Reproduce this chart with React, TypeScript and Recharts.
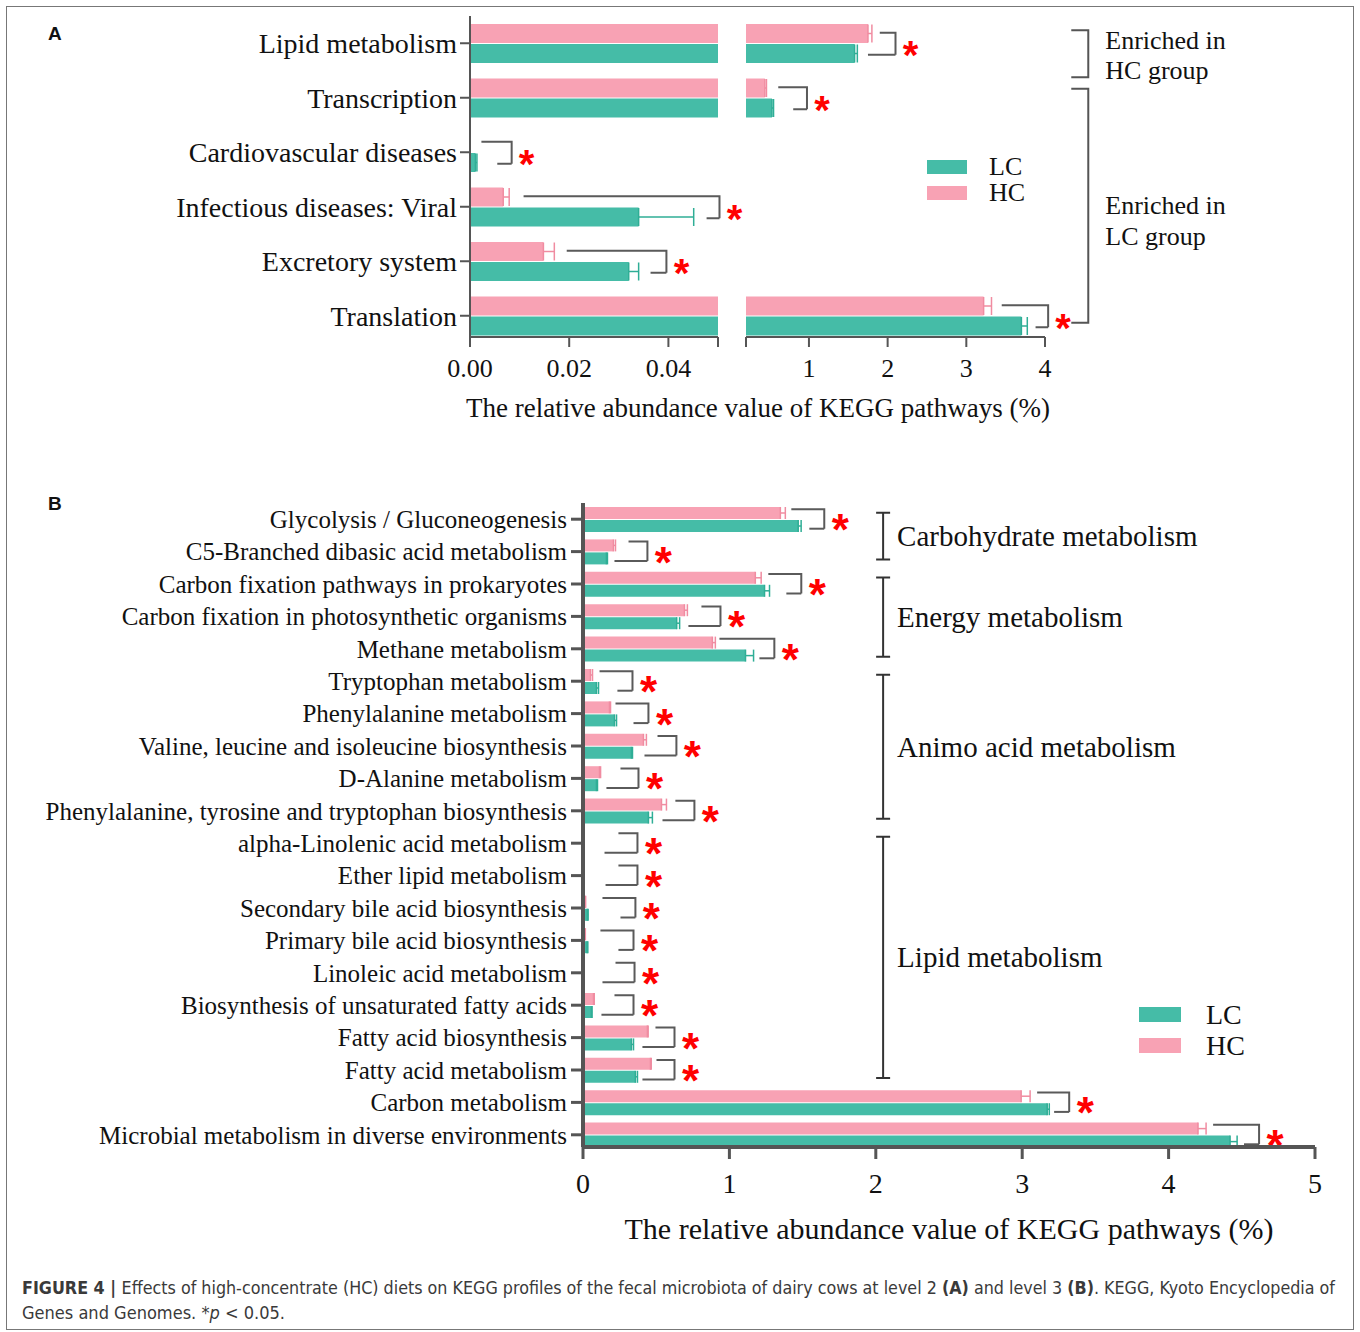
import React from 'react';
import { BarChart, Bar, XAxis, YAxis, ErrorBar, ReferenceLine, Legend } from 'recharts';

const SERIF = '"Liberation Serif", "Times New Roman", Times, serif';
const SANS = '"Liberation Sans", Arial, Helvetica, sans-serif';
const NARROW = '"Liberation Sans Narrow", "DejaVu Sans Condensed", "Liberation Sans", sans-serif';

const LC_COLOR = '#45BCA7';
const HC_COLOR = '#F8A2B4';
const LC_ERR_COLOR = '#2FAE96';
const HC_ERR_COLOR = '#F08CA1';
const BRACKET_COLOR = '#5a5a5a';
const AXIS_COLOR = '#555555';
const STAR_COLOR = '#FF0000';
const TEXT_COLOR = '#111111';

const seriesNames = ['LC', 'HC'];
const seriesColors = [LC_COLOR, HC_COLOR];
const AXIS_TITLE = 'The relative abundance value of KEGG pathways (%)';

// ---------------- Panel A (KEGG level 2) ----------------
const aCategories = [
  'Lipid metabolism',
  'Transcription',
  'Cardiovascular diseases',
  'Infectious diseases: Viral',
  'Excretory system',
  'Translation',
];
const aLC = [1.58, 0.53, 0.0011, 0.034, 0.032, 3.7];
const aLCErr = [0.035, 0.02, 0.0003, 0.0111, 0.002, 0.075];
const aHC = [1.75, 0.44, 0, 0.0067, 0.0148, 3.22];
const aHCErr = [0.05, 0.02, 0, 0.0012, 0.0022, 0.1];
const aBracketTop = [1.9, 0.61, 0.0023, 0.0108, 0.0195, 3.45];
const aBracketBottom = [1.75, 0.8, 0.0055, 0.0477, 0.0364, 3.88];
const aBracketRight = [2.1, 0.975, 0.0084, 0.0503, 0.0396, 4.04];
const aBreak = [0.05, 0.2];
const aLeftTicks = [0, 0.02, 0.04, 0.05];
const aRightTicks = [0.2, 1, 2, 3, 4];
const aGroupX = 4.55;
const aGroups = [
  { lines: ['Enriched in', 'HC group'], from: 0, to: 0, extTop: -13, extBottom: 34, textDy: [-13, 17] },
  { lines: ['Enriched in', 'LC group'], from: 1, to: 5, extTop: -9, extBottom: 7, textDy: [0, 31] },
];

// ---------------- Panel B (KEGG level 3) ----------------
const bCategories = [
  'Glycolysis / Gluconeogenesis',
  'C5-Branched dibasic acid metabolism',
  'Carbon fixation pathways in prokaryotes',
  'Carbon fixation in photosynthetic organisms',
  'Methane metabolism',
  'Tryptophan metabolism',
  'Phenylalanine metabolism',
  'Valine, leucine and isoleucine biosynthesis',
  'D-Alanine metabolism',
  'Phenylalanine, tyrosine and tryptophan biosynthesis',
  'alpha-Linolenic acid metabolism',
  'Ether lipid metabolism',
  'Secondary bile acid biosynthesis',
  'Primary bile acid biosynthesis',
  'Linoleic acid metabolism',
  'Biosynthesis of unsaturated fatty acids',
  'Fatty acid biosynthesis',
  'Fatty acid metabolism',
  'Carbon metabolism',
  'Microbial metabolism in diverse environments',
];
const bLC = [1.47, 0.16, 1.24, 0.64, 1.11, 0.092, 0.215, 0.331, 0.092, 0.447, 0.005, 0.004, 0.03, 0.028, 0.002, 0.057, 0.331, 0.358, 3.171, 4.42];
const bLCErr = [0.02, 0.007, 0.034, 0.02, 0.055, 0.014, 0.014, 0.007, 0.007, 0.027, 0.001, 0.001, 0.005, 0.005, 0.001, 0.005, 0.014, 0.014, 0.014, 0.048];
const bHC = [1.348, 0.208, 1.177, 0.693, 0.884, 0.051, 0.181, 0.413, 0.113, 0.536, 0.006, 0.005, 0.015, 0.013, 0.006, 0.072, 0.44, 0.461, 2.993, 4.201];
const bHCErr = [0.034, 0.014, 0.04, 0.02, 0.02, 0.014, 0.007, 0.02, 0.007, 0.034, 0.001, 0.001, 0.003, 0.003, 0.001, 0.005, 0.005, 0.005, 0.061, 0.055];
const bBracketTop = [1.423, 0.311, 1.266, 0.809, 0.932, 0.113, 0.222, 0.509, 0.256, 0.631, 0.242, 0.242, 0.133, 0.119, 0.222, 0.215, 0.495, 0.502, 3.102, 4.304];
const bBracketBottom = [1.546, 0.215, 1.389, 0.72, 1.205, 0.235, 0.345, 0.42, 0.16, 0.543, 0.147, 0.154, 0.256, 0.242, 0.133, 0.126, 0.406, 0.406, 3.218, 4.515];
const bBracketRight = [1.648, 0.44, 1.491, 0.939, 1.307, 0.338, 0.447, 0.638, 0.379, 0.761, 0.372, 0.372, 0.358, 0.345, 0.352, 0.345, 0.625, 0.625, 3.321, 4.618];
const bTicks = [0, 1, 2, 3, 4, 5];
const bGroupX = 2.05;
const bGroups = [
  { label: 'Carbohydrate metabolism', from: 0, to: 1 },
  { label: 'Energy metabolism', from: 2, to: 4 },
  { label: 'Animo acid metabolism', from: 5, to: 9 },
  { label: 'Lipid metabolism', from: 10, to: 17 },
];

// ---------------- data tables ----------------
const aLeftData = aCategories.map((name, i) => ({
  name,
  hc: aHC[i],
  lc: aLC[i],
  hcErr: aHCErr[i] > 0 && aHC[i] + aHCErr[i] <= aBreak[0] ? [0, aHCErr[i]] : null,
  lcErr: aLCErr[i] > 0 && aLC[i] + aLCErr[i] <= aBreak[0] ? [0, aLCErr[i]] : null,
}));
const aRightData = aCategories.map((name, i) => ({
  name,
  hc: aHC[i] >= aBreak[1] ? aHC[i] : null,
  lc: aLC[i] >= aBreak[1] ? aLC[i] : null,
  hcErr: aHC[i] >= aBreak[1] ? [0, aHCErr[i]] : null,
  lcErr: aLC[i] >= aBreak[1] ? [0, aLCErr[i]] : null,
}));
const bData = bCategories.map((name, i) => ({
  name,
  hc: bHC[i],
  lc: bLC[i],
  hcErr: [0, bHCErr[i]],
  lcErr: [0, bLCErr[i]],
}));

// ---------------- shapes ----------------
const ok = (...v: any[]) => v.every((n) => typeof n === 'number' && Number.isFinite(n));

function bracketTopShape(topOff: number, botOff: number, starDx: number, starDy: number, starSize: number) {
  return (p: any) => {
    const { x1, y1, x2, y2 } = p;
    if (!ok(x1, y1, x2, y2)) return <g />;
    return (
      <g>
        <path d={`M${x1},${y1 + topOff}H${x2}V${y2 + botOff}`} fill="none" stroke={BRACKET_COLOR} strokeWidth={2} />
        <text x={x2 + starDx} y={y2 + starDy} textAnchor="middle" fill={STAR_COLOR} fontFamily={SANS} fontWeight="bold" fontSize={starSize}>
          *
        </text>
      </g>
    );
  };
}
function bracketBottomShape(botOff: number) {
  return (p: any) => {
    const { x1, y1, x2 } = p;
    if (!ok(x1, y1, x2)) return <g />;
    return <path d={`M${x1},${y1 + botOff}H${x2}`} fill="none" stroke={BRACKET_COLOR} strokeWidth={2} />;
  };
}

function enrichedShape(g: any) {
  return (p: any) => {
    const { x1, y1, y2 } = p;
    if (!ok(x1, y1, y2)) return <g />;
    const top = y1 + g.extTop;
    const bot = y2 + g.extBottom;
    const mid = (top + bot) / 2;
    return (
      <g>
        <path d={`M${x1 - 17},${top}H${x1}V${bot}H${x1 - 17}`} fill="none" stroke={AXIS_COLOR} strokeWidth={2} />
        {g.lines.map((t: string, k: number) => (
          <text key={k} x={x1 + 17} y={mid + g.textDy[k]} dominantBaseline="central" fontFamily={SERIF} fontSize={26} fill={TEXT_COLOR}>
            {t}
          </text>
        ))}
      </g>
    );
  };
}

function groupShape(label: string) {
  return (p: any) => {
    const { x1, y1, y2 } = p;
    if (!ok(x1, y1, y2)) return <g />;
    const top = y1 - 6.5;
    const bot = y2 + 8;
    return (
      <g>
        <path d={`M${x1},${top}V${bot}M${x1 - 7},${top}H${x1 + 7}M${x1 - 7},${bot}H${x1 + 7}`} fill="none" stroke="#333" strokeWidth={2} />
        <text x={x1 + 14} y={(top + bot) / 2} dominantBaseline="central" fontFamily={SERIF} fontSize={29} fill={TEXT_COLOR}>
          {label}
        </text>
      </g>
    );
  };
}

function LegendBox({ swatchW, swatchH, fontSize, rowGap, labelGap }: any) {
  return (
    <div style={{ display: 'flex', flexDirection: 'column', gap: rowGap }}>
      {seriesNames.map((n, k) => (
        <div key={n} style={{ display: 'flex', alignItems: 'center', height: swatchH }}>
          <div style={{ width: swatchW, height: swatchH, background: seriesColors[k] }} />
          <span style={{ marginLeft: labelGap, fontFamily: SERIF, fontSize, lineHeight: 1, color: TEXT_COLOR }}>{n}</span>
        </div>
      ))}
    </div>
  );
}

function renderBrackets(
  cats: string[],
  idx: number[],
  top: number[],
  bottom: number[],
  right: number[],
  o: { topOff: number; botOff: number; starDx: number; starDy: number; starSize: number },
) {
  const out: any[] = [];
  idx.forEach((i) => {
    out.push(
      <ReferenceLine
        key={`bt${i}`}
        ifOverflow="visible"
        segment={[{ x: top[i], y: cats[i] }, { x: right[i], y: cats[i] }]}
        shape={bracketTopShape(o.topOff, o.botOff, o.starDx, o.starDy, o.starSize)}
      />,
    );
    out.push(
      <ReferenceLine
        key={`bb${i}`}
        ifOverflow="visible"
        segment={[{ x: bottom[i], y: cats[i] }, { x: right[i], y: cats[i] }]}
        shape={bracketBottomShape(o.botOff)}
      />,
    );
  });
  return out;
}

const aBracketStyle = { topOff: -10.5, botOff: 11.5, starDx: 15, starDy: 26, starSize: 40 };
const bBracketStyle = { topOff: -10, botOff: 9.5, starDx: 16, starDy: 26, starSize: 44 };

const aLeftIdx = aCategories.map((_, i) => i).filter((i) => aBracketRight[i] <= aBreak[1]);
const aRightIdx = aCategories.map((_, i) => i).filter((i) => aBracketRight[i] > aBreak[1]);
const bIdx = bCategories.map((_, i) => i);

const aTick = { fill: TEXT_COLOR, fontSize: 26, fontFamily: SERIF };

export default function App() {
  return (
    <div style={{ position: 'absolute', left: 0, top: 0, width: 1360, height: 1332, background: '#fff', overflow: 'hidden' }}>
      {/* Panel A, left segment of the broken axis */}
      <div style={{ position: 'absolute', left: 0, top: 0 }}>
        <BarChart width={780} height={400} data={aLeftData} layout="vertical" margin={{ top: 16, right: 62, bottom: 0, left: 0 }} barSize={19} barGap={1}>
          <Bar dataKey="hc" name="HC" fill={HC_COLOR} isAnimationActive={false}>
            <ErrorBar dataKey="hcErr" direction="x" width={9} stroke={HC_ERR_COLOR} strokeWidth={1.5} isAnimationActive={false} />
          </Bar>
          <Bar dataKey="lc" name="LC" fill={LC_COLOR} isAnimationActive={false}>
            <ErrorBar dataKey="lcErr" direction="x" width={9} stroke={LC_ERR_COLOR} strokeWidth={1.5} isAnimationActive={false} />
          </Bar>
          <XAxis
            type="number"
            domain={[0, aBreak[0]]}
            allowDataOverflow
            ticks={aLeftTicks}
            interval={0}
            tickFormatter={(v: number) => (v === aBreak[0] ? '' : v.toFixed(2))}
            height={63}
            axisLine={{ stroke: AXIS_COLOR, strokeWidth: 2 }}
            tickLine={{ stroke: AXIS_COLOR, strokeWidth: 2 }}
            tickSize={10}
            tickMargin={12}
            tick={aTick}
          />
          <YAxis
            type="category"
            dataKey="name"
            width={470}
            padding={{ top: 0, bottom: -6 }}
            axisLine={{ stroke: AXIS_COLOR, strokeWidth: 2 }}
            tickLine={{ stroke: AXIS_COLOR, strokeWidth: 2 }}
            tickSize={10}
            tickMargin={3}
            interval={0}
            tick={{ fill: TEXT_COLOR, fontSize: 28, fontFamily: SERIF }}
          />
          {renderBrackets(aCategories, aLeftIdx, aBracketTop, aBracketBottom, aBracketRight, aBracketStyle)}
        </BarChart>
      </div>

      {/* Panel A, right segment of the broken axis */}
      <div style={{ position: 'absolute', left: 700, top: 0 }}>
        <BarChart width={660} height={400} data={aRightData} layout="vertical" margin={{ top: 16, right: 315, bottom: 0, left: 46 }} barSize={19} barGap={1}>
          <Bar dataKey="hc" name="HC" fill={HC_COLOR} isAnimationActive={false}>
            <ErrorBar dataKey="hcErr" direction="x" width={9} stroke={HC_ERR_COLOR} strokeWidth={1.5} isAnimationActive={false} />
          </Bar>
          <Bar dataKey="lc" name="LC" fill={LC_COLOR} isAnimationActive={false}>
            <ErrorBar dataKey="lcErr" direction="x" width={9} stroke={LC_ERR_COLOR} strokeWidth={1.5} isAnimationActive={false} />
          </Bar>
          <XAxis
            type="number"
            domain={[aBreak[1], 4]}
            allowDataOverflow
            ticks={aRightTicks}
            interval={0}
            tickFormatter={(v: number) => (v === aBreak[1] ? '' : String(v))}
            height={63}
            axisLine={{ stroke: AXIS_COLOR, strokeWidth: 2 }}
            tickLine={{ stroke: AXIS_COLOR, strokeWidth: 2 }}
            tickSize={10}
            tickMargin={12}
            tick={aTick}
          />
          <YAxis type="category" dataKey="name" hide padding={{ top: 0, bottom: -6 }} />
          {renderBrackets(aCategories, aRightIdx, aBracketTop, aBracketBottom, aBracketRight, aBracketStyle)}
          {aGroups.map((g, k) => (
            <ReferenceLine
              key={`ag${k}`}
              ifOverflow="visible"
              segment={[{ x: aGroupX, y: aCategories[g.from] }, { x: aGroupX, y: aCategories[g.to] }]}
              shape={enrichedShape(g)}
            />
          ))}
          <Legend
            layout="vertical"
            align="center"
            verticalAlign="middle"
            wrapperStyle={{ left: 227, top: 160, width: 'auto', height: 'auto' }}
            content={() => <LegendBox swatchW={40} swatchH={14} fontSize={26} rowGap={12} labelGap={22} />}
          />
        </BarChart>
      </div>

      {/* Panel B */}
      <div style={{ position: 'absolute', left: 0, top: 440 }}>
        <BarChart width={1360} height={830} data={bData} layout="vertical" margin={{ top: 63, right: 45, bottom: 63, left: 0 }} barSize={12} barGap={1}>
          <Bar dataKey="hc" name="HC" fill={HC_COLOR} isAnimationActive={false}>
            <ErrorBar dataKey="hcErr" direction="x" width={6} stroke={HC_ERR_COLOR} strokeWidth={1.5} isAnimationActive={false} />
          </Bar>
          <Bar dataKey="lc" name="LC" fill={LC_COLOR} isAnimationActive={false}>
            <ErrorBar dataKey="lcErr" direction="x" width={6} stroke={LC_ERR_COLOR} strokeWidth={1.5} isAnimationActive={false} />
          </Bar>
          <XAxis
            type="number"
            domain={[0, 5]}
            ticks={bTicks}
            interval={0}
            height={60}
            axisLine={{ stroke: AXIS_COLOR, strokeWidth: 4 }}
            tickLine={{ stroke: AXIS_COLOR, strokeWidth: 3 }}
            tickSize={12}
            tickMargin={14}
            tick={{ fill: TEXT_COLOR, fontSize: 28, fontFamily: SERIF }}
            label={{ value: AXIS_TITLE, position: 'bottom', offset: 11, style: { fill: TEXT_COLOR, fontSize: 30, fontFamily: SERIF } }}
          />
          <YAxis
            type="category"
            dataKey="name"
            width={583}
            padding={{ top: 0, bottom: -4 }}
            axisLine={{ stroke: AXIS_COLOR, strokeWidth: 4 }}
            tickLine={{ stroke: AXIS_COLOR, strokeWidth: 3 }}
            tickSize={12}
            tickMargin={4}
            interval={0}
            tick={{ fill: TEXT_COLOR, fontSize: 25, fontFamily: SERIF }}
          />
          {renderBrackets(bCategories, bIdx, bBracketTop, bBracketBottom, bBracketRight, bBracketStyle)}
          {bGroups.map((g, k) => (
            <ReferenceLine
              key={`bg${k}`}
              ifOverflow="visible"
              segment={[{ x: bGroupX, y: bCategories[g.from] }, { x: bGroupX, y: bCategories[g.to] }]}
              shape={groupShape(g.label)}
            />
          ))}
          <Legend
            layout="vertical"
            align="center"
            verticalAlign="middle"
            wrapperStyle={{ left: 1139, top: 567, width: 'auto', height: 'auto' }}
            content={() => <LegendBox swatchW={42} swatchH={15} fontSize={28} rowGap={16} labelGap={25} />}
          />
        </BarChart>
      </div>

      {/* frame, panel letters, shared axis title of A, caption */}
      <svg width={1360} height={1332} style={{ position: 'absolute', left: 0, top: 0, pointerEvents: 'none' }}>
        <rect x={6.5} y={6.5} width={1347} height={1323} fill="none" stroke="#777" strokeWidth={1} />
        <text x={48} y={40} fontFamily={SANS} fontWeight="bold" fontSize={19} fill={TEXT_COLOR}>A</text>
        <text x={48} y={510} fontFamily={SANS} fontWeight="bold" fontSize={19} fill={TEXT_COLOR}>B</text>
        <text x={758} y={408} textAnchor="middle" dominantBaseline="central" fontFamily={SERIF} fontSize={27} fill={TEXT_COLOR}>
          {AXIS_TITLE}
        </text>
        <text x={22} y={1294} fontFamily={NARROW} fontSize={17} fill="#3a3a3a" textLength={1313} lengthAdjust="spacingAndGlyphs" style={{ whiteSpace: 'pre' }}>
          <tspan fontWeight="bold">FIGURE 4 | </tspan>
          <tspan>Effects of high-concentrate (HC) diets on KEGG profiles of the fecal microbiota of dairy cows at level 2 </tspan>
          <tspan fontWeight="bold">(A)</tspan>
          <tspan> and level 3 </tspan>
          <tspan fontWeight="bold">(B)</tspan>
          <tspan>. KEGG, Kyoto Encyclopedia of</tspan>
        </text>
        <text x={22} y={1319} fontFamily={NARROW} fontSize={17} fill="#3a3a3a" textLength={263} lengthAdjust="spacingAndGlyphs" style={{ whiteSpace: 'pre' }}>
          <tspan>Genes and Genomes. *</tspan>
          <tspan fontStyle="italic">p</tspan>
          <tspan> &lt; 0.05.</tspan>
        </text>
      </svg>
    </div>
  );
}
